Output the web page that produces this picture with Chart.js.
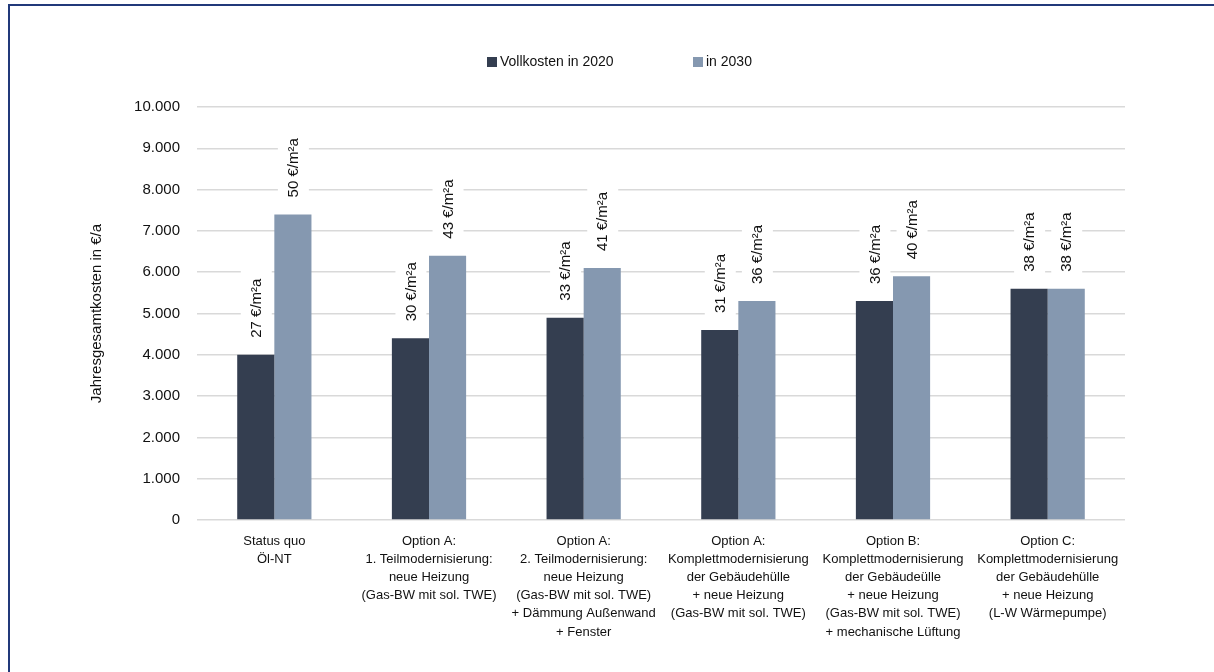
<!DOCTYPE html>
<html>
<head>
<meta charset="utf-8">
<script src="https://cdn.jsdelivr.net/npm/chart.js@4/dist/chart.umd.min.js"></script>
<style>
    html, body { margin: 0; padding: 0; background: #fff; overflow: hidden; }
    #wrap { position: relative; width: 1214px; height: 672px; }
    #frame {
        position: absolute; left: 8px; top: 4px;
        width: 1400px; height: 900px;
        border: 2px solid #21397a; box-sizing: border-box;
    }
    #chart { position: absolute; left: 0; top: 0; }
</style>
</head>
<body>
<div id="wrap">
    <div id="frame"></div>
    <canvas id="chart" width="1214" height="672"></canvas>
</div>
<script>
// Varianten (mehrzeilige Achsenbeschriftung)
const categories = [
    ['Status quo', 'Öl-NT'],
    ['Option A:', '1. Teilmodernisierung:', 'neue Heizung', '(Gas-BW mit sol. TWE)'],
    ['Option A:', '2. Teilmodernisierung:', 'neue Heizung', '(Gas-BW mit sol. TWE)', '+ Dämmung Außenwand', '+ Fenster'],
    ['Option A:', 'Komplettmodernisierung', 'der Gebäudehülle', '+ neue Heizung', '(Gas-BW mit sol. TWE)'],
    ['Option B:', 'Komplettmodernisierung', 'der Gebäudeülle', '+ neue Heizung', '(Gas-BW mit sol. TWE)', '+ mechanische Lüftung'],
    ['Option C:', 'Komplettmodernisierung', 'der Gebäudehülle', '+ neue Heizung', '(L-W Wärmepumpe)']
];

const seriesNames = ['Vollkosten in 2020', 'in 2030'];

// Jahresgesamtkosten in €/a
const costs2020 = [4000, 4400, 4900, 4600, 5300, 5600];
const costs2030 = [7400, 6400, 6100, 5300, 5900, 5600];

// spezifische Kosten je m² Wohnfläche
const specific2020 = ['27 €/m²a', '30 €/m²a', '33 €/m²a', '31 €/m²a', '36 €/m²a', '38 €/m²a'];
const specific2030 = ['50 €/m²a', '43 €/m²a', '41 €/m²a', '36 €/m²a', '40 €/m²a', '38 €/m²a'];

const yMin = 0;
const yMax = 10000;
const yStep = 1000;

const COLOR_2020 = '#343e50';
const COLOR_2030 = '#8598b0';
const FONT = "'Liberation Sans', Arial, sans-serif";

function formatThousands(value) {
    return String(value).replace(/\B(?=(\d{3})+(?!\d))/g, '.');
}

// gedrehte Werte über den Balken, mit weißem Hintergrund
const barLabels = {
    id: 'barLabels',
    afterDatasetsDraw(chart) {
        const ctx = chart.ctx;
        const texts = [specific2020, specific2030];
        ctx.save();
        ctx.font = '15px ' + FONT;
        ctx.textBaseline = 'middle';
        ctx.textAlign = 'left';
        chart.data.datasets.forEach((ds, di) => {
            chart.getDatasetMeta(di).data.forEach((bar, i) => {
                const text = texts[di][i];
                const w = ctx.measureText(text).width;
                ctx.save();
                ctx.translate(bar.x, bar.y - 17);
                ctx.rotate(-Math.PI / 2);
                ctx.fillStyle = '#fff';
                ctx.fillRect(-6, -15, w + 14, 31);
                ctx.fillStyle = '#111';
                ctx.fillText(text, 0, 1);
                ctx.restore();
            });
        });
        ctx.restore();
    }
};

// Legende oben mittig
const topLegend = {
    id: 'topLegend',
    afterDraw(chart) {
        const ctx = chart.ctx;
        const starts = [487, 693];
        ctx.save();
        ctx.font = '14px ' + FONT;
        ctx.textBaseline = 'middle';
        chart.data.datasets.forEach((ds, i) => {
            ctx.fillStyle = ds.backgroundColor;
            ctx.fillRect(starts[i], 57, 10, 10);
            ctx.fillStyle = '#111';
            ctx.fillText(ds.label, starts[i] + 13, 62);
        });
        ctx.restore();
    }
};

new Chart(document.getElementById('chart'), {
    type: 'bar',
    data: {
        labels: categories,
        datasets: [
            { label: seriesNames[0], data: costs2020, backgroundColor: COLOR_2020 },
            { label: seriesNames[1], data: costs2030, backgroundColor: COLOR_2030 }
        ]
    },
    options: {
        responsive: false,
        animation: false,
        devicePixelRatio: 1,
        layout: { padding: { top: 107, right: 89, left: 0, bottom: 0 } },
        datasets: { bar: { categoryPercentage: 0.48, barPercentage: 1 } },
        plugins: {
            legend: { display: false },
            tooltip: { enabled: false }
        },
        scales: {
            x: {
                grid: { display: false },
                border: { display: false },
                ticks: {
                    color: '#111',
                    font: { family: FONT, size: 13, lineHeight: 1.4 },
                    padding: 4,
                    maxRotation: 0,
                    autoSkip: false
                },
                afterFit: (scale) => { scale.height = 152; }
            },
            y: {
                min: yMin,
                max: yMax,
                border: { display: false },
                grid: { color: '#d9d9d9', lineWidth: 1.5, drawTicks: false },
                ticks: {
                    stepSize: yStep,
                    color: '#111',
                    font: { family: FONT, size: 15 },
                    padding: 17,
                    callback: (value) => formatThousands(value)
                },
                title: {
                    display: true,
                    text: 'Jahresgesamtkosten in €/a',
                    color: '#111',
                    font: { family: FONT, size: 15 },
                    padding: { top: 88, bottom: 0 }
                },
                afterFit: (scale) => { scale.width = 197; }
            }
        }
    },
    plugins: [barLabels, topLegend]
});
</script>
</body>
</html>
